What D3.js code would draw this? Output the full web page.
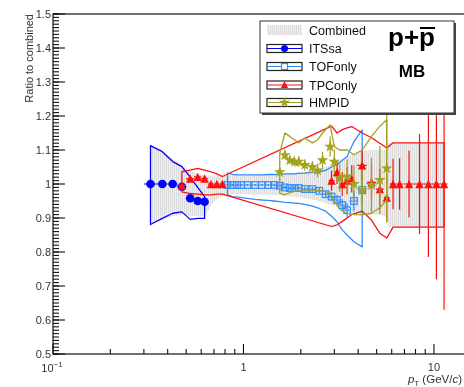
<!DOCTYPE html>
<html>
<head>
<meta charset="utf-8">
<script src="https://cdn.jsdelivr.net/npm/d3@7"></script>
<style>
  body { margin: 0; background: #fff; }
  svg { display: block; font-family: "Liberation Sans", Arial, Helvetica, sans-serif; }
</style>
</head>
<body>
<svg id="chart" width="464" height="387"></svg>
<script>
// ---- axis ticks ----
const yMajorTicks = [0.5, 0.6, 0.7, 0.8, 0.9, 1.0, 1.1, 1.2, 1.3, 1.4, 1.5];
const yTickLabels = ["0.5", "0.6", "0.7", "0.8", "0.9", "1", "1.1", "1.2", "1.3", "1.4", "1.5"];
const xMajorTicks = [0.1, 1, 10];
const xMinorTicks = [0.2, 0.3, 0.4, 0.5, 0.6, 0.7, 0.8, 0.9, 2, 3, 4, 5, 6, 7, 8, 9];

// ---- Combined: relative systematic band ----
const combPt = [0.325, 0.375, 0.425, 0.475, 0.525, 0.575, 0.625, 0.7, 0.8, 1.0, 1.5, 2.0, 2.5, 3.0, 3.5, 4.0, 4.5, 5.0, 5.6, 5.75, 11.3];
const combHi = [1.113, 1.095, 1.075, 1.055, 1.04, 1.03, 1.025, 1.025, 1.025, 1.025, 1.028, 1.035, 1.045, 1.06, 1.08, 1.095, 1.1, 1.1, 1.1, 1.121, 1.121];
const combLo = [0.881, 0.895, 0.905, 0.91, 0.905, 0.905, 0.905, 0.95, 0.97, 0.97, 0.968, 0.96, 0.95, 0.935, 0.92, 0.91, 0.91, 0.91, 0.905, 0.873, 0.873];

// ---- ITSsa ----
const itsPt    = [0.325, 0.375, 0.425, 0.475, 0.525, 0.575, 0.625];
const itsHalf  = [0.025, 0.025, 0.025, 0.025, 0.025, 0.025, 0.025];
const itsRatio = [1.0, 1.0, 1.0, 0.992, 0.958, 0.95, 0.948];
const itsStat  = [0.003, 0.003, 0.003, 0.003, 0.004, 0.004, 0.005];
const itsSysHi = [1.113, 1.095, 1.066, 1.051, 1.02, 0.99, 0.963];
const itsSysLo = [0.881, 0.899, 0.914, 0.918, 0.896, 0.899, 0.899];

// ---- TOFonly ----
const tofPt    = [0.825, 0.875, 0.925, 0.975, 1.05, 1.15, 1.25, 1.35, 1.45, 1.55, 1.65, 1.75, 1.85, 1.95, 2.1, 2.3, 2.5, 2.7, 2.9, 3.1, 3.3, 3.5, 3.8, 4.2];
const tofHalf  = [0.025, 0.025, 0.025, 0.025, 0.05, 0.05, 0.05, 0.05, 0.05, 0.05, 0.05, 0.05, 0.05, 0.05, 0.1, 0.1, 0.1, 0.1, 0.1, 0.1, 0.1, 0.1, 0.2, 0.2];
const tofRatio = [0.997, 0.997, 0.997, 0.997, 0.997, 0.997, 0.997, 0.997, 0.997, 0.995, 0.99, 0.988, 0.988, 0.988, 0.985, 0.985, 0.98, 0.97, 0.963, 0.953, 0.938, 0.923, 0.95, 0.982];
const tofStat  = [0.003, 0.003, 0.003, 0.003, 0.003, 0.003, 0.003, 0.003, 0.004, 0.004, 0.004, 0.005, 0.005, 0.005, 0.006, 0.007, 0.008, 0.01, 0.012, 0.015, 0.018, 0.02, 0.03, 0.04];
const tofSysHi = [1.032, 1.028, 1.027, 1.027, 1.027, 1.027, 1.027, 1.028, 1.028, 1.029, 1.03, 1.03, 1.03, 1.031, 1.032, 1.034, 1.036, 1.04, 1.05, 1.056, 1.07, 1.081, 1.125, 1.159];
const tofSysLo = [0.968, 0.963, 0.962, 0.96, 0.958, 0.955, 0.953, 0.952, 0.95, 0.948, 0.946, 0.945, 0.944, 0.943, 0.94, 0.935, 0.928, 0.92, 0.905, 0.889, 0.865, 0.85, 0.83, 0.815];

// ---- TPConly ----
const tpcPt    = [0.475, 0.525, 0.575, 0.625, 0.675, 0.725, 0.775, 2.9, 3.1, 3.3, 3.5, 3.7, 4.2, 4.7, 5.2, 5.65, 6.1, 6.6, 7.4, 8.4, 9.35, 10.3, 11.3];
const tpcHalf  = [0.025, 0.025, 0.025, 0.025, 0.025, 0.025, 0.025, 0.1, 0.1, 0.1, 0.1, 0.1, 0.25, 0.25, 0.25, 0.2, 0.25, 0.25, 0.5, 0.5, 0.5, 0.5, 0.5];
const tpcRatio = [0.996, 1.016, 1.021, 1.016, 1.0, 1.0, 1.0, 1.01, 1.035, 1.0, 1.01, 1.015, 1.055, 1.005, 0.985, 0.96, 1.0, 1.0, 1.0, 1.0, 1.0, 1.0, 1.0];
const tpcStat  = [0.004, 0.004, 0.004, 0.004, 0.004, 0.004, 0.004, 0.03, 0.035, 0.035, 0.04, 0.04, 0.045, 0.05, 0.06, 0.07, 0.074, 0.076, 0.098, 0.147, 0.215, 0.28, 0.37];
const tpcSysHi = [1.036, 1.041, 1.046, 1.041, 1.036, 1.03, 1.022, 1.17, 1.15, 1.16, 1.165, 1.169, 1.15, 1.136, 1.12, 1.106, 1.121, 1.121, 1.121, 1.121, 1.121, 1.121, 1.121];
const tpcSysLo = [0.977, 0.972, 0.97, 0.968, 0.968, 0.97, 0.97, 0.875, 0.88, 0.89, 0.9, 0.91, 0.92, 0.894, 0.855, 0.841, 0.873, 0.873, 0.873, 0.873, 0.873, 0.873, 0.873];

// ---- HMPID ----
const hmpPt    = [1.55, 1.65, 1.75, 1.85, 1.95, 2.1, 2.3, 2.45, 2.6, 2.85, 3.0, 3.2, 3.5, 3.8, 4.2, 4.7, 5.2, 5.65];
const hmpHalf  = [0.05, 0.05, 0.05, 0.05, 0.05, 0.1, 0.1, 0.1, 0.1, 0.1, 0.1, 0.1, 0.1, 0.1, 0.1, 0.1, 0.1, 0.1];
const hmpRatio = [1.035, 1.085, 1.07, 1.066, 1.066, 1.056, 1.05, 1.04, 1.07, 1.11, 1.066, 1.017, 1.022, 1.0, 0.982, 0.997, 1.012, 1.046];
const hmpStat  = [0.01, 0.012, 0.012, 0.014, 0.015, 0.016, 0.018, 0.02, 0.025, 0.03, 0.035, 0.04, 0.05, 0.055, 0.06, 0.08, 0.1, 0.16];
const hmpSysHi = [1.091, 1.15, 1.14, 1.13, 1.121, 1.135, 1.121, 1.13, 1.15, 1.174, 1.11, 1.10, 1.10, 1.086, 1.10, 1.14, 1.17, 1.189];
const hmpSysLo = [0.973, 0.968, 0.975, 0.978, 0.98, 0.98, 0.98, 0.982, 0.98, 0.973, 0.95, 0.925, 0.914, 0.91, 0.909, 0.914, 0.93, 0.953];

const legendLabels = ["Combined", "ITSsa", "TOFonly", "TPConly", "HMPID"];

// ---- colours ----
const C_ITS = "#0000ff", C_TOF = "#2f8cff", C_TPC = "#ff1010", C_HMP = "#a3a322";

const root = d3.select("#chart");
const x = d3.scaleLog().domain([0.1, 15]).range([53, 467.5]);
const y = d3.scaleLinear().domain([0.5, 1.5]).range([354, 14]);

// hatch fill for the combined band, slight softening filter for the whole drawing
const defs = root.append("defs");
const pat = defs.append("pattern").attr("id", "hatch").attr("patternUnits", "userSpaceOnUse")
  .attr("width", 2).attr("height", 4);
pat.append("rect").attr("width", 2).attr("height", 4).attr("fill", "#efefef");
pat.append("rect").attr("width", 1).attr("height", 4).attr("fill", "#dcdcdc");
defs.append("clipPath").attr("id", "plotClip").append("rect")
  .attr("x", x.range()[0]).attr("y", y.range()[1]).attr("width", x.range()[1] - x.range()[0]).attr("height", y.range()[0] - y.range()[1]);
defs.append("filter").attr("id", "soft").attr("x", "-5%").attr("y", "-5%").attr("width", "110%").attr("height", "110%")
  .append("feGaussianBlur").attr("stdDeviation", 0.35);

const svg = root.append("g").attr("filter", "url(#soft)");
svg.append("rect").attr("width", 464).attr("height", 387).attr("fill", "#fff");

const zip = (pt, a, b, c, d, e) => pt.map((p, i) => ({ pt: p, half: a[i], v: b[i], stat: c[i], hi: d[i], lo: e[i] }));
const its = zip(itsPt, itsHalf, itsRatio, itsStat, itsSysHi, itsSysLo);
const tof = zip(tofPt, tofHalf, tofRatio, tofStat, tofSysHi, tofSysLo);
const tpc = zip(tpcPt, tpcHalf, tpcRatio, tpcStat, tpcSysHi, tpcSysLo);
const hmp = zip(hmpPt, hmpHalf, hmpRatio, hmpStat, hmpSysHi, hmpSysLo);
const comb = combPt.map((p, i) => ({ pt: p, hi: combHi[i], lo: combLo[i] }));

const plot = svg.append("g").attr("clip-path", "url(#plotClip)");

const band = d3.area().x(d => x(d.pt)).y0(d => y(d.lo)).y1(d => y(d.hi));

// combined band
plot.append("path").datum(comb).attr("d", band).attr("fill", "url(#hatch)");

// systematic outlines
function sysOutline(data, color) {
  plot.append("path").datum(data).attr("d", band)
    .attr("fill", "none").attr("stroke", color).attr("stroke-width", 1.3).attr("stroke-linejoin", "round");
}
function errorBars(data, color) {
  const g = plot.append("g").attr("stroke", color).attr("stroke-width", 1.2);
  g.selectAll("line.h").data(data).join("line").attr("class", "h")
    .attr("x1", d => x(d.pt - d.half)).attr("x2", d => x(d.pt + d.half))
    .attr("y1", d => y(d.v)).attr("y2", d => y(d.v));
  g.selectAll("line.v").data(data).join("line").attr("class", "v")
    .attr("x1", d => x(d.pt)).attr("x2", d => x(d.pt))
    .attr("y1", d => y(d.v - d.stat)).attr("y2", d => y(d.v + d.stat));
}
const triPath = (cx, cy, r) => `M${cx - r},${cy + r}L${cx + r},${cy + r}L${cx},${cy - r}Z`;
const starPath = d3.symbol().type(d3.symbolStar).size(44);

// ITSsa
sysOutline(its, C_ITS);
errorBars(its, C_ITS);
plot.append("g").selectAll("circle").data(its).join("circle")
  .attr("cx", d => x(d.pt)).attr("cy", d => y(d.v)).attr("r", 4.3).attr("fill", C_ITS);

// TOFonly
sysOutline(tof, C_TOF);
errorBars(tof, C_TOF);
plot.append("g").selectAll("rect").data(tof).join("rect")
  .attr("x", d => x(d.pt) - 3.3).attr("y", d => y(d.v) - 3.3).attr("width", 6.6).attr("height", 6.6)
  .attr("fill", "none").attr("stroke", C_TOF).attr("stroke-width", 1.2);

// TPConly
sysOutline(tpc, C_TPC);
errorBars(tpc, C_TPC);
plot.append("g").selectAll("path").data(tpc).join("path")
  .attr("d", d => triPath(x(d.pt), y(d.v), 4.2)).attr("fill", C_TPC);

// HMPID
sysOutline(hmp, C_HMP);
errorBars(hmp, C_HMP);
plot.append("g").selectAll("path").data(hmp).join("path")
  .attr("transform", d => `translate(${x(d.pt)},${y(d.v)})`).attr("d", starPath).attr("fill", C_HMP);

// ---- frame and axes ----
const x0 = x.range()[0], x1 = x.range()[1], yb = y.range()[0], yt = y.range()[1];
svg.append("rect").attr("x", x0).attr("y", yt).attr("width", x1 - x0).attr("height", yb - yt)
  .attr("fill", "none").attr("stroke", "#111").attr("stroke-width", 1.2);

const axG = svg.append("g").attr("stroke", "#111").attr("stroke-width", 1.1);
// y minor ticks every 0.01
const yMinor = d3.range(50, 151).map(v => v / 100);
axG.selectAll("line.ym").data(yMinor).join("line").attr("class", "ym")
  .attr("x1", x0).attr("x2", x0 + 6).attr("y1", d => y(d)).attr("y2", d => y(d));
axG.selectAll("line.yM").data(yMajorTicks).join("line").attr("class", "yM")
  .attr("x1", x0).attr("x2", x0 + 12).attr("y1", d => y(d)).attr("y2", d => y(d));
axG.selectAll("line.xm").data(xMinorTicks).join("line").attr("class", "xm")
  .attr("x1", d => x(d)).attr("x2", d => x(d)).attr("y1", yb).attr("y2", yb - 5);
axG.selectAll("line.xM").data(xMajorTicks).join("line").attr("class", "xM")
  .attr("x1", d => x(d)).attr("x2", d => x(d)).attr("y1", yb).attr("y2", yb - 10);

// y tick labels
svg.append("g").selectAll("text").data(yMajorTicks).join("text")
  .attr("x", x0 - 2).attr("y", d => y(d) + 4).attr("text-anchor", "end")
  .attr("font-size", 11).attr("fill", "#333").text((d, i) => yTickLabels[i]);

// x tick labels
const xl = svg.append("g").attr("font-size", 11).attr("fill", "#333");
const lab01 = xl.append("text").attr("x", x(0.1) - 1).attr("y", 372).attr("text-anchor", "middle");
lab01.append("tspan").text("10");
lab01.append("tspan").attr("dy", -5).attr("font-size", 8).text("\u22121");
xl.append("text").attr("x", x(1)).attr("y", 371).attr("text-anchor", "middle").text("1");
xl.append("text").attr("x", x(10)).attr("y", 371).attr("text-anchor", "middle").text("10");

// axis titles
const xt = svg.append("text").attr("x", 462).attr("y", 383).attr("text-anchor", "end")
  .attr("font-size", 11.5).attr("fill", "#333");
xt.append("tspan").attr("font-style", "italic").text("p");
xt.append("tspan").attr("dy", 3).attr("font-size", 8).text("T");
xt.append("tspan").attr("dy", -3).text(" (GeV/");
xt.append("tspan").attr("font-style", "italic").text("c");
xt.append("tspan").text(")");

svg.append("text").attr("transform", "translate(33,14) rotate(-90)")
  .attr("text-anchor", "end").attr("font-size", 11).attr("fill", "#333").text("Ratio to combined");

// ---- legend ----
const L = svg.append("g");
L.append("rect").attr("x", 262).attr("y", 23).attr("width", 194).attr("height", 92).attr("fill", "#444");
L.append("rect").attr("x", 260).attr("y", 21).attr("width", 194).attr("height", 92)
  .attr("fill", "#fff").attr("stroke", "#333").attr("stroke-width", 1);

const rowY = [30, 48.5, 66.5, 85, 102.5];
const bx0 = 267, bx1 = 302, bh = 8;
// Combined swatch
L.append("rect").attr("x", bx0).attr("y", rowY[0] - 5).attr("width", bx1 - bx0).attr("height", 10).attr("fill", "url(#hatch)");
const legendColors = [null, C_ITS, C_TOF, C_TPC, C_HMP];
for (let i = 1; i < 5; i++) {
  const cy = rowY[i];
  L.append("rect").attr("x", bx0).attr("y", cy - bh / 2).attr("width", bx1 - bx0).attr("height", bh)
    .attr("fill", "none").attr("stroke", "#222").attr("stroke-width", 1.2);
  L.append("line").attr("x1", bx0).attr("x2", bx1).attr("y1", cy).attr("y2", cy)
    .attr("stroke", legendColors[i]).attr("stroke-width", 1.2);
  const mx = (bx0 + bx1) / 2;
  if (i === 1) L.append("circle").attr("cx", mx).attr("cy", cy).attr("r", 3.5).attr("fill", C_ITS);
  if (i === 2) L.append("rect").attr("x", mx - 3).attr("y", cy - 3).attr("width", 6).attr("height", 6)
    .attr("fill", "#fff").attr("stroke", C_TOF).attr("stroke-width", 1.2);
  if (i === 3) L.append("path").attr("d", triPath(mx, cy - 0.5, 3.6)).attr("fill", C_TPC);
  if (i === 4) L.append("path").attr("transform", `translate(${mx},${cy})`)
    .attr("d", d3.symbol().type(d3.symbolStar).size(40)).attr("fill", C_HMP);
}
L.selectAll("text.lab").data(legendLabels).join("text").attr("class", "lab")
  .attr("x", 309).attr("y", (d, i) => rowY[i] + 4.5).attr("font-size", 12.5).attr("fill", "#111").text(d => d);

// system label
const sysLab = L.append("text").attr("x", 388).attr("y", 46).attr("font-size", 26).attr("font-weight", "bold").attr("fill", "#000");
sysLab.append("tspan").text("p+");
sysLab.append("tspan").text("p");
L.append("line").attr("x1", 420).attr("x2", 435).attr("y1", 28).attr("y2", 28).attr("stroke", "#000").attr("stroke-width", 2);
L.append("text").attr("x", 412).attr("y", 77).attr("text-anchor", "middle").attr("font-size", 17)
  .attr("font-weight", "bold").attr("fill", "#000").text("MB");
</script>
</body>
</html>
